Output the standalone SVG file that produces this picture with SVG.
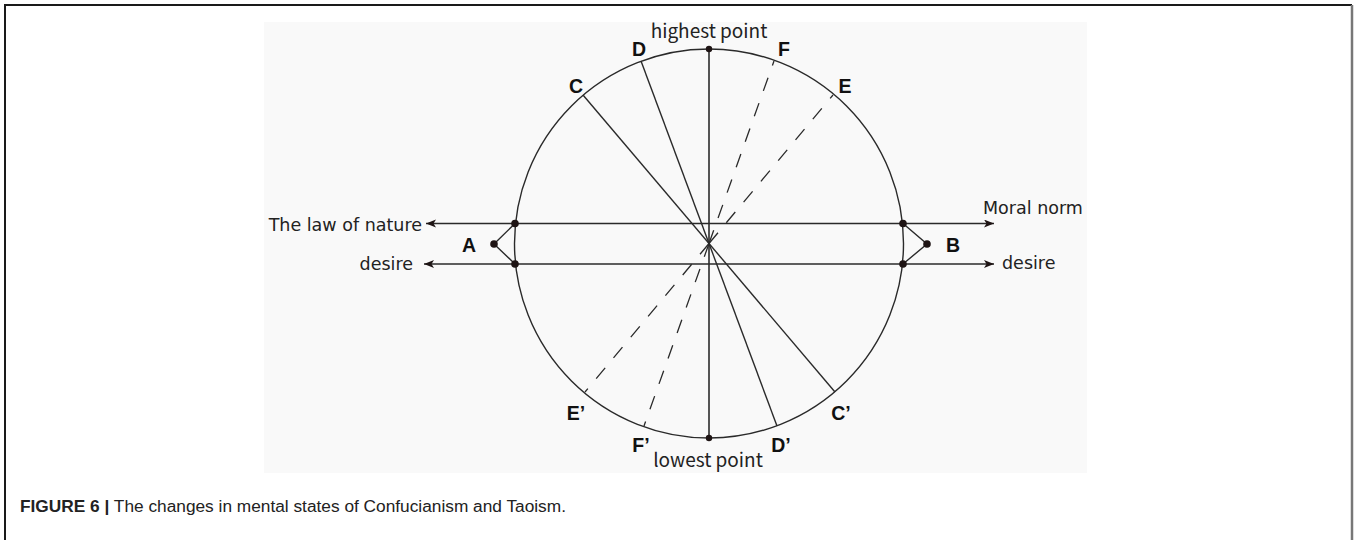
<svg xmlns="http://www.w3.org/2000/svg" width="1357" height="540" viewBox="0 0 1357 540">
<style>
.frame{stroke:#1a1a1a;stroke-width:2;fill:none}
.ln{stroke:#2a2a2a;stroke-width:1.4;fill:none}
.dash{stroke:#2a2a2a;stroke-width:1.3;fill:none;stroke-dasharray:14 13}
.axis{stroke:#555;stroke-width:2;fill:none}
.dot{fill:#1e1414}
.lbl{font-family:"Liberation Sans",Arial,sans-serif;font-weight:bold;font-size:19.5px;fill:#111}
.sans{font-family:"DejaVu Sans",sans-serif;font-size:17.5px;fill:#222}
.cjk{font-family:"Noto Sans CJK SC","Noto Sans",sans-serif;font-size:19px;fill:#222}
.cap{font-family:"Liberation Sans",Arial,sans-serif;font-size:17.3px;fill:#222}
</style>
<defs>
<marker id="arr" markerWidth="12" markerHeight="10" refX="10" refY="4" orient="auto" markerUnits="userSpaceOnUse">
<path d="M0,0 L10,4 L0,8 L2.5,4 z" fill="#1e1414"/>
</marker>
</defs>
<rect width="1357" height="540" fill="#fff"/>
<path class="frame" d="M5,541 L5,5 L1352,5"/>
<path d="M1352,5 L1352,541" stroke="#777" stroke-width="2.5" fill="none"/>
<rect x="264" y="22" width="823" height="451" fill="#f9f9f9"/>

<g id="circle">
<circle cx="709" cy="243.5" r="194.5" class="ln"/>
</g>

<g id="connectors">
<line class="axis" x1="709" y1="49" x2="709" y2="438"/>
<line class="ln" x1="515" y1="223.5" x2="426" y2="223.5" marker-end="url(#arr)"/>
<line class="ln" x1="515" y1="223.5" x2="994" y2="223.5" marker-end="url(#arr)"/>
<line class="ln" x1="515" y1="264" x2="424" y2="264" marker-end="url(#arr)"/>
<line class="ln" x1="515" y1="264" x2="994" y2="264" marker-end="url(#arr)"/>
<polyline class="ln" points="515,223.5 494,244 515,264"/>
<polyline class="ln" points="903,223.5 927,244 903,264"/>
<line class="ln" x1="583" y1="95" x2="835" y2="392"/>
<line class="ln" x1="641" y1="61" x2="777" y2="426"/>
<path class="dash" d="M709,243.5 L833,95"/>
<path class="dash" d="M709,243.5 L585,392"/>
<path class="dash" d="M709,243.5 L774,61"/>
<path class="dash" d="M709,243.5 L644,426"/>
</g>

<g id="dots">
<circle class="dot" cx="709" cy="49" r="3.2"/>
<circle class="dot" cx="709" cy="438" r="3.2"/>
<circle class="dot" cx="515" cy="223.5" r="3.8"/>
<circle class="dot" cx="515" cy="264" r="3.8"/>
<circle class="dot" cx="903" cy="223.5" r="3.8"/>
<circle class="dot" cx="903" cy="264" r="3.8"/>
<circle class="dot" cx="494" cy="244" r="3.8"/>
<circle class="dot" cx="927" cy="244" r="3.8"/>
</g>

<g id="node-highest"><text class="cjk" x="709" y="38" text-anchor="middle">highest point</text></g>
<g id="node-lowest"><text class="cjk" x="708" y="467" text-anchor="middle">lowest point</text></g>
<g id="node-nature"><text class="sans" x="422" y="231" text-anchor="end">The law of nature</text></g>
<g id="node-desire-left"><text class="sans" x="413" y="270" text-anchor="end">desire</text></g>
<g id="node-moral"><text class="sans" x="983" y="214">Moral norm</text></g>
<g id="node-desire-right"><text class="sans" x="1002" y="269">desire</text></g>
<g id="node-A"><text class="lbl" x="469" y="252" text-anchor="middle">A</text></g>
<g id="node-B"><text class="lbl" x="953" y="252" text-anchor="middle">B</text></g>
<g id="node-C"><text class="lbl" x="576" y="93" text-anchor="middle">C</text></g>
<g id="node-D"><text class="lbl" x="639" y="56" text-anchor="middle">D</text></g>
<g id="node-E"><text class="lbl" x="845" y="93" text-anchor="middle">E</text></g>
<g id="node-F"><text class="lbl" x="784" y="56" text-anchor="middle">F</text></g>
<g id="node-C2"><text class="lbl" x="841" y="420" text-anchor="middle">C’</text></g>
<g id="node-D2"><text class="lbl" x="781" y="452" text-anchor="middle">D’</text></g>
<g id="node-E2"><text class="lbl" x="576" y="420" text-anchor="middle">E’</text></g>
<g id="node-F2"><text class="lbl" x="641" y="452" text-anchor="middle">F’</text></g>

<g id="caption"><text class="cap" x="20" y="512"><tspan font-weight="bold">FIGURE 6 |</tspan> The changes in mental states of Confucianism and Taoism.</text></g>
</svg>
